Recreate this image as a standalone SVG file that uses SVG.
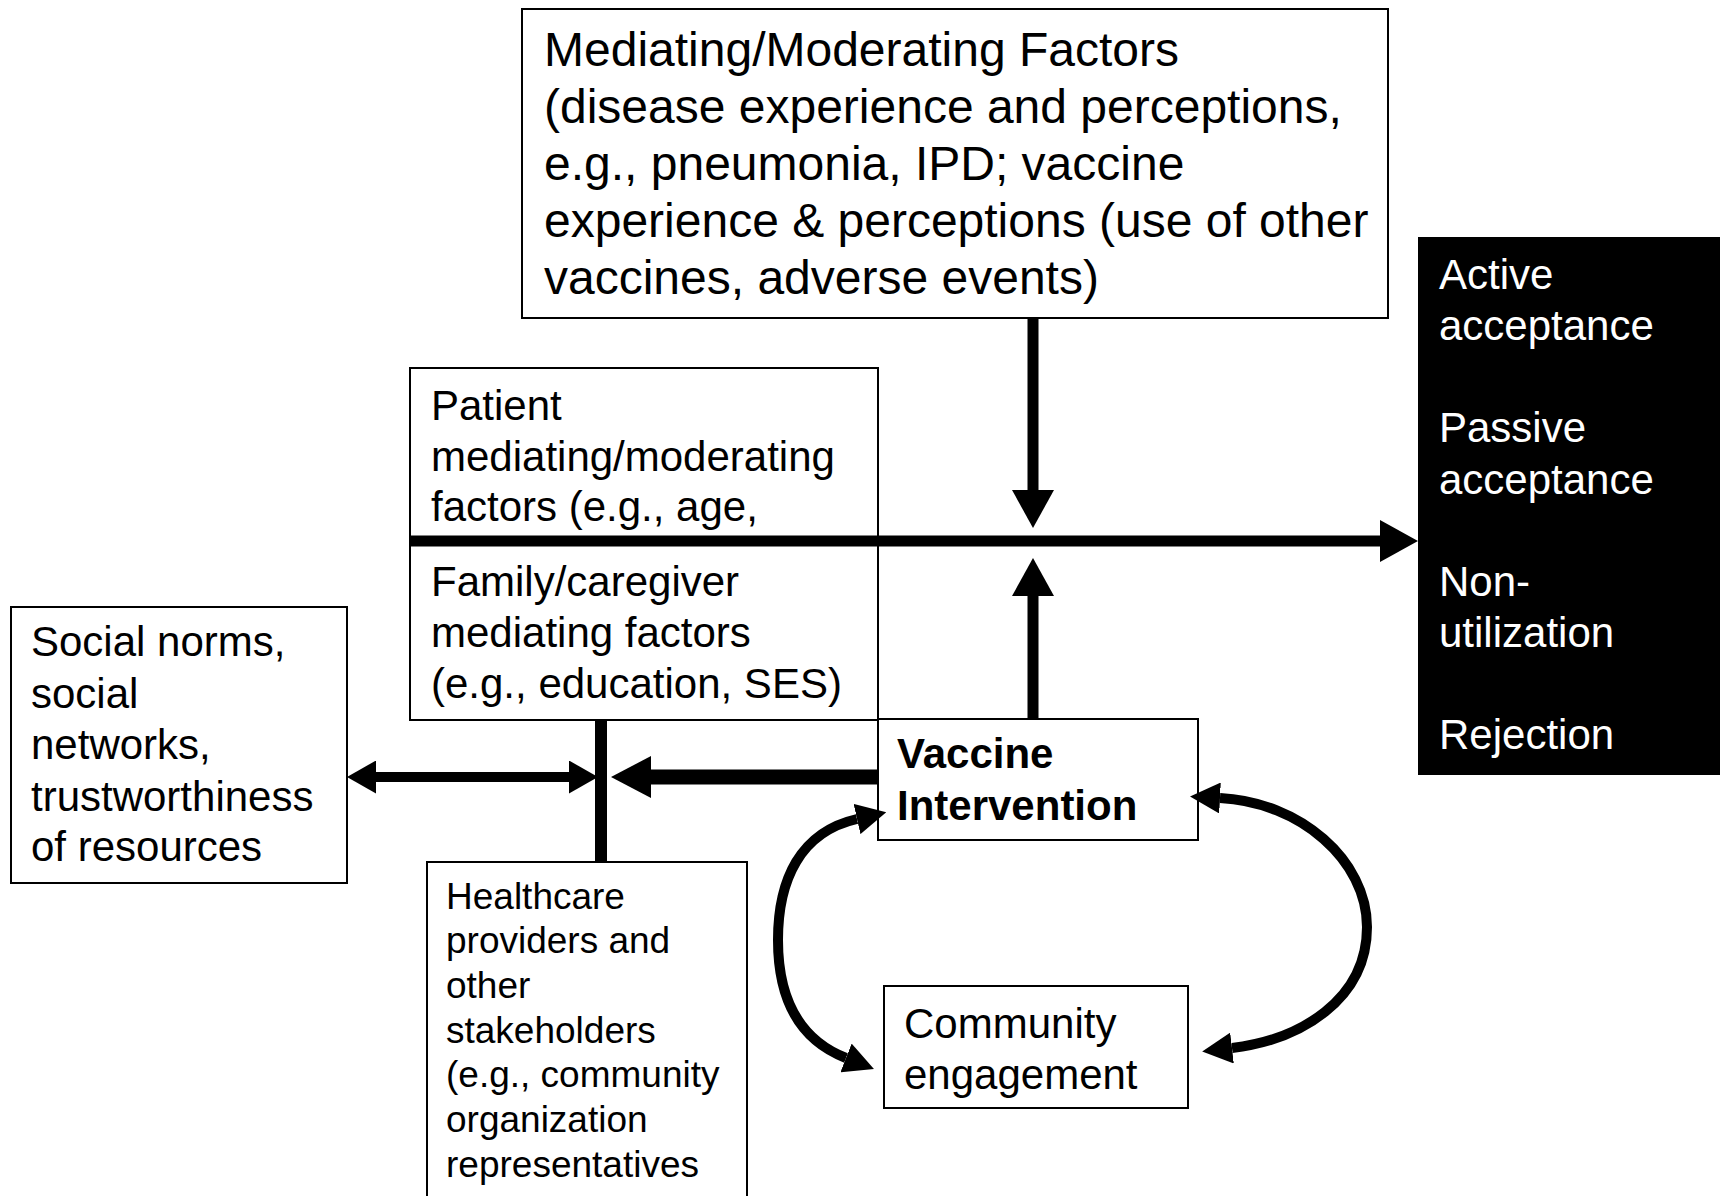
<svg xmlns="http://www.w3.org/2000/svg" width="1720" height="1196" viewBox="0 0 1720 1196">
  <style>
    text { font-family: "Liberation Sans", Arial, sans-serif; fill: #000; }
    .box { fill: #fff; stroke: #000; stroke-width: 2; }
    .t48 { font-size: 48px; }
    .t42 { font-size: 42px; }
    .t37 { font-size: 37px; }
    .bold { font-weight: bold; }
    .white { fill: #fff; }
    .wire { fill: none; stroke: #000; }
  </style>
  <defs>
    <!-- arrowheads: the line ends at the head's base, the tip sits beyond -->
    <marker id="headL" markerUnits="userSpaceOnUse" viewBox="0 0 38 42" markerWidth="38" markerHeight="42" refX="0" refY="21" orient="auto-start-reverse">
      <path d="M0,0 L38,21 L0,42 z" fill="#000"/>
    </marker>
    <marker id="headW" markerUnits="userSpaceOnUse" viewBox="0 0 40 42" markerWidth="40" markerHeight="42" refX="0" refY="21" orient="auto-start-reverse">
      <path d="M0,0 L40,21 L0,42 z" fill="#000"/>
    </marker>
    <marker id="headM" markerUnits="userSpaceOnUse" viewBox="0 0 29 33" markerWidth="29" markerHeight="33" refX="0" refY="16.5" orient="auto-start-reverse">
      <path d="M0,0 L29,16.5 L0,33 z" fill="#000"/>
    </marker>
    <marker id="headS" markerUnits="userSpaceOnUse" viewBox="0 0 30 31" markerWidth="30" markerHeight="31" refX="0" refY="15.5" orient="auto-start-reverse">
      <path d="M0,0 L30,15.5 L0,31 z" fill="#000"/>
    </marker>
  </defs>

  <rect width="1720" height="1196" fill="#fff"/>

  <!-- Top factors box -->
  <g id="node-mediating">
    <rect class="box" x="522" y="9" width="866" height="309"/>
    <text class="t48" x="544" y="66">Mediating/Moderating Factors</text>
    <text class="t48" x="544" y="123">(disease experience and perceptions,</text>
    <text class="t48" x="544" y="180">e.g., pneumonia, IPD; vaccine</text>
    <text class="t48" x="544" y="237">experience &amp; perceptions (use of other</text>
    <text class="t48" x="544" y="294">vaccines, adverse events)</text>
  </g>

  <!-- Patient / family box -->
  <g id="node-patient-family">
    <rect class="box" x="410" y="368" width="468" height="352"/>
    <text class="t42" x="431" y="420">Patient</text>
    <text class="t42" x="431" y="471">mediating/moderating</text>
    <text class="t42" x="431" y="521">factors (e.g., age,</text>
    <text class="t42" x="431" y="596">Family/caregiver</text>
    <text class="t42" x="431" y="647">mediating factors</text>
    <text class="t42" x="431" y="698">(e.g., education, SES)</text>
  </g>

  <!-- Outcomes -->
  <g id="node-outcomes">
    <rect x="1418" y="237" width="302" height="538" fill="#000"/>
    <text class="t42 white" x="1439" y="289">Active</text>
    <text class="t42 white" x="1439" y="340">acceptance</text>
    <text class="t42 white" x="1439" y="442">Passive</text>
    <text class="t42 white" x="1439" y="494">acceptance</text>
    <text class="t42 white" x="1439" y="596">Non-</text>
    <text class="t42 white" x="1439" y="647">utilization</text>
    <text class="t42 white" x="1439" y="749">Rejection</text>
  </g>

  <!-- Social norms -->
  <g id="node-social">
    <rect class="box" x="11" y="607" width="336" height="276"/>
    <text class="t42" x="31" y="656">Social norms,</text>
    <text class="t42" x="31" y="708">social</text>
    <text class="t42" x="31" y="759">networks,</text>
    <text class="t42" x="31" y="811">trustworthiness</text>
    <text class="t42" x="31" y="861">of resources</text>
  </g>

  <!-- Healthcare providers -->
  <g id="node-healthcare">
    <rect class="box" x="427" y="862" width="320" height="400"/>
    <text class="t37" x="446" y="909">Healthcare</text>
    <text class="t37" x="446" y="953">providers and</text>
    <text class="t37" x="446" y="998">other</text>
    <text class="t37" x="446" y="1043">stakeholders</text>
    <text class="t37" x="446" y="1087">(e.g., community</text>
    <text class="t37" x="446" y="1132">organization</text>
    <text class="t37" x="446" y="1177">representatives</text>
  </g>

  <!-- Vaccine intervention -->
  <g id="node-vaccine">
    <rect class="box" x="878" y="719" width="320" height="121"/>
    <text class="t42 bold" x="897" y="768">Vaccine</text>
    <text class="t42 bold" x="897" y="820">Intervention</text>
  </g>

  <!-- Community engagement -->
  <g id="node-community">
    <rect class="box" x="884" y="986" width="304" height="122"/>
    <text class="t42" x="904" y="1038">Community</text>
    <text class="t42" x="904" y="1089">engagement</text>
  </g>

  <!-- Connectors -->
  <g id="connectors">
    <path class="wire" d="M410,541 H1380" stroke-width="11" marker-end="url(#headL)"/>
    <path class="wire" d="M1033,318 V490" stroke-width="11" marker-end="url(#headL)"/>
    <path class="wire" d="M1033,719 V596" stroke-width="11" marker-end="url(#headL)"/>
    <path class="wire" d="M601,720 V862" stroke-width="12"/>
    <path class="wire" d="M376,777 H569" stroke-width="10" marker-start="url(#headM)" marker-end="url(#headM)"/>
    <path class="wire" d="M878,777 H651" stroke-width="15" marker-end="url(#headW)"/>
    <path class="wire" d="M857,819 C800,832 778,880 778,940 C778,1000 800,1040 846,1058" stroke-width="10" marker-start="url(#headS)" marker-end="url(#headS)"/>
    <path class="wire" d="M1220,798 C1300,802 1367,860 1367,927 C1367,1000 1300,1040 1232,1048" stroke-width="10" marker-start="url(#headS)" marker-end="url(#headS)"/>
  </g>
</svg>
